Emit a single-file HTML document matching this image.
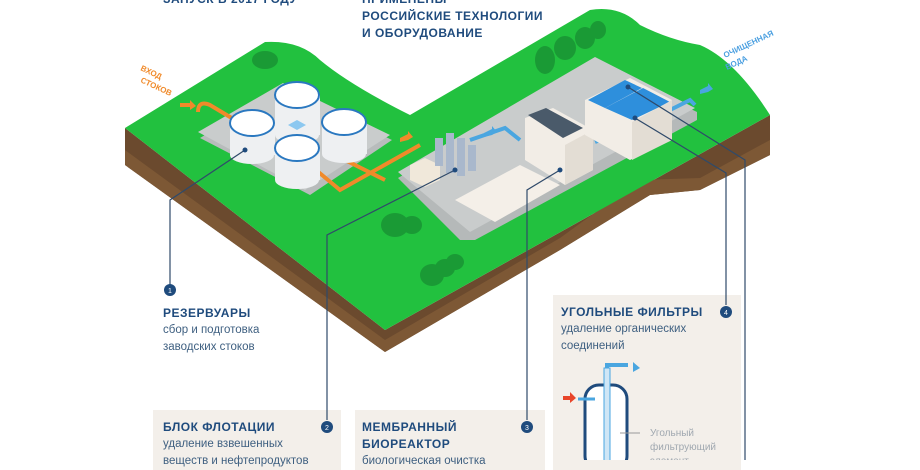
<!DOCTYPE html>
<html><head><meta charset="utf-8"><style>
body{margin:0;width:920px;height:460px;overflow:hidden;background:#fff;font-family:"Liberation Sans","Noto Sans CJK SC",sans-serif}
svg{position:absolute;left:0;top:0}
.t{position:absolute;color:#1f4b7d;font-weight:bold;font-size:12px;letter-spacing:.5px;line-height:17px}
.s{position:absolute;color:#3e5f80;font-size:11.5px;line-height:17px}
.box{position:absolute;background:#f3efea}
</style></head><body>
<div class="box" style="left:153px;top:410px;width:188px;height:60px"></div>
<div class="box" style="left:355px;top:410px;width:190px;height:60px"></div>
<div class="box" style="left:553px;top:295px;width:188px;height:175px"></div>
<svg width="920" height="460">
<polygon points="125,128 385,330 770,115 770,155 700,190 650,195 560,250 385,352 125,165" fill="#6b4a2e"/>
<polygon points="125,150 385,340 560,238 640,180 700,178 770,140 770,155 700,190 650,195 560,250 385,352 125,165" fill="#7d5835"/>
<path d="M125,128 L265,42 Q300,40 320,60 Q350,85 410,115 L590,10 Q620,5 640,25 Q670,40 700,45 Q735,60 770,115 L385,330 Z" fill="#22c13f"/>
<g fill="#1a9a35"><ellipse cx="265" cy="60" rx="13" ry="9"/><ellipse cx="545" cy="60" rx="10" ry="14"/><ellipse cx="565" cy="48" rx="11" ry="12"/><ellipse cx="585" cy="38" rx="10" ry="11"/><ellipse cx="598" cy="30" rx="8" ry="9"/><ellipse cx="395" cy="225" rx="14" ry="12"/><ellipse cx="412" cy="225" rx="10" ry="9"/><ellipse cx="432" cy="275" rx="12" ry="11"/><ellipse cx="445" cy="268" rx="10" ry="9"/><ellipse cx="455" cy="262" rx="9" ry="8"/></g>
<polygon points="200,138 285,88 392,140 310,195" fill="#b8bcbc"/>
<polygon points="198,132 283,83 390,135 305,190" fill="#c9cccc"/>
<polygon points="398,178 595,62 697,112 697,120 475,240 460,240" fill="#b5b9b9"/>
<polygon points="398,172 595,57 695,108 470,232" fill="#c9cccc"/>
<polygon points="455,200 520,165 560,185 495,222" fill="#f4efe8"/>
<g fill="none" stroke="#f08a2a" stroke-width="4"><path d="M198,112 Q198,100 210,105 L235,120"/><path d="M310,165 L340,190 L420,145"/><path d="M335,155 L385,180"/></g>
<g fill="none" stroke="#4aa6e0" stroke-width="4"><path d="M470,140 L505,128 L520,140"/><path d="M595,142 L612,135"/><path d="M670,110 L690,100 L695,105"/></g>
<polygon points="180,103 190,103 190,100 196,106 190,110 190,107 180,107" fill="#f08a2a"/>
<polygon points="400,138 408,134 408,131 413,137 408,140 400,142" fill="#f08a2a"/>
<polygon points="484,133 492,129 492,126 497,132 492,135 484,137" fill="#4aa6e0"/>
<polygon points="700,90 708,86 708,83 713,89 708,92 700,94" fill="#4aa6e0"/>
<g>
<rect x="275" y="95" width="45" height="40" fill="#eef0f2"/><ellipse cx="297" cy="135" rx="22" ry="9" fill="#eef0f2"/><ellipse cx="297" cy="95" rx="22" ry="13" fill="#fff" stroke="#2a78c0" stroke-width="2"/>
<rect x="230" y="123" width="45" height="32" fill="#eef0f2"/><ellipse cx="252" cy="155" rx="22" ry="9" fill="#eef0f2"/><ellipse cx="252" cy="123" rx="22" ry="13" fill="#fff" stroke="#2a78c0" stroke-width="2"/>
<rect x="322" y="122" width="45" height="32" fill="#eef0f2"/><ellipse cx="344" cy="154" rx="22" ry="9" fill="#eef0f2"/><ellipse cx="344" cy="122" rx="22" ry="13" fill="#fff" stroke="#2a78c0" stroke-width="2"/>
<rect x="275" y="148" width="45" height="32" fill="#eef0f2"/><ellipse cx="297" cy="180" rx="22" ry="9" fill="#eef0f2"/><ellipse cx="297" cy="148" rx="22" ry="13" fill="#fff" stroke="#2a78c0" stroke-width="2"/>
<polygon points="297,120 306,125 297,130 288,125" fill="#8cc8f0"/>
</g>
<polygon points="410,165 425,158 440,165 440,180 425,187 410,180" fill="#f0e8da"/>
<g fill="#a9b8cc"><rect x="435" y="138" width="8" height="28"/><rect x="446" y="133" width="8" height="28"/><rect x="457" y="138" width="8" height="28"/><rect x="446" y="145" width="8" height="28"/><rect x="457" y="150" width="8" height="26"/><rect x="468" y="145" width="8" height="26"/></g>
<polygon points="525,118 553,108 593,130 593,170 565,185 525,160" fill="#f2ede6"/>
<polygon points="528,115 546,108 583,128 563,138" fill="#4a5a6a"/>
<polygon points="565,145 593,130 593,170 565,185" fill="#e3ddd4"/>
<polygon points="585,100 630,78 672,100 672,140 630,160 585,135" fill="#f2ede6"/>
<polygon points="588,100 625,80 642,88 605,108" fill="#2e8fdc"/>
<polygon points="605,108 643,88 670,102 632,120" fill="#2e8fdc"/>
<polygon points="632,122 672,100 672,140 632,160" fill="#e3ddd4"/>
<g stroke="#2f4a6a" stroke-width="1.2" fill="none">
<path d="M245,150 L170,200 L170,285"/><path d="M455,170 L327,235 L327,420"/><path d="M560,170 L527,190 L527,420"/>
<path d="M635,118 L726,173 L726,305"/><path d="M628,87 L745,160 L745,460"/>
</g>
<g fill="#1f4b7d"><circle cx="245" cy="150" r="2.5"/><circle cx="455" cy="170" r="2.5"/><circle cx="560" cy="170" r="2.5"/><circle cx="635" cy="118" r="2.5"/><circle cx="628" cy="87" r="2.5"/></g>
<g fill="#1f4b7d" font-size="7" font-family="Liberation Sans" text-anchor="middle">
<circle cx="170" cy="290" r="6"/><circle cx="327" cy="427" r="6"/><circle cx="527" cy="427" r="6"/><circle cx="726" cy="312" r="6"/>
<text x="170" y="293" fill="#fff">1</text><text x="327" y="430" fill="#fff">2</text><text x="527" y="430" fill="#fff">3</text><text x="726" y="315" fill="#fff">4</text></g>
<text x="140" y="70" fill="#f08a2a" font-size="8" font-weight="bold" transform="rotate(25 140 70)">ВХОД</text>
<text x="140" y="82" fill="#f08a2a" font-size="8" font-weight="bold" transform="rotate(25 140 82)">СТОКОВ</text>
<text x="725" y="58" fill="#4a9fe0" font-size="8" font-weight="bold" transform="rotate(-25 725 58)">ОЧИЩЕННАЯ</text>
<text x="727" y="70" fill="#4a9fe0" font-size="8" font-weight="bold" transform="rotate(-25 727 70)">ВОДА</text>
<rect x="585" y="385" width="42" height="85" rx="14" fill="#fff" stroke="#1f4b7d" stroke-width="3"/>
<rect x="604" y="368" width="6" height="95" fill="#cfe6f6" stroke="#4aa6e0"/>
<path d="M607,368 L607,365 L628,365" stroke="#4aa6e0" stroke-width="4" fill="none"/>
<polygon points="633,362 640,368 633,372" fill="#4aa6e0"/>
<polygon points="563,396 570,396 570,392 576,398 570,403 570,400 563,400" fill="#e8452a"/>
<path d="M578,399 L595,399" stroke="#4aa6e0" stroke-width="3"/>
<line x1="620" y1="433" x2="640" y2="433" stroke="#999"/>
<text x="650" y="436" fill="#a0a8b0" font-size="10">Угольный</text>
<text x="650" y="450" fill="#a0a8b0" font-size="10">фильтрующий</text>
<text x="650" y="464" fill="#a0a8b0" font-size="10">элемент</text>
</svg>
<div class="t" style="left:163px;top:-9px">ЗАПУСК В 2017 ГОДУ</div>
<div class="t" style="left:362px;top:-9px">ПРИМЕНЕНЫ<br>РОССИЙСКИЕ ТЕХНОЛОГИИ<br>И ОБОРУДОВАНИЕ</div>
<div class="t" style="left:163px;top:305px">РЕЗЕРВУАРЫ</div>
<div class="s" style="left:163px;top:322px">сбор и подготовка<br>заводских стоков</div>
<div class="t" style="left:163px;top:419px">БЛОК ФЛОТАЦИИ</div>
<div class="s" style="left:163px;top:436px">удаление взвешенных<br>веществ и нефтепродуктов</div>
<div class="t" style="left:362px;top:419px">МЕМБРАННЫЙ<br>БИОРЕАКТОР</div>
<div class="s" style="left:362px;top:453px">биологическая очистка</div>
<div class="t" style="left:561px;top:304px">УГОЛЬНЫЕ ФИЛЬТРЫ</div>
<div class="s" style="left:561px;top:321px">удаление органических<br>соединений</div>
</body></html>
